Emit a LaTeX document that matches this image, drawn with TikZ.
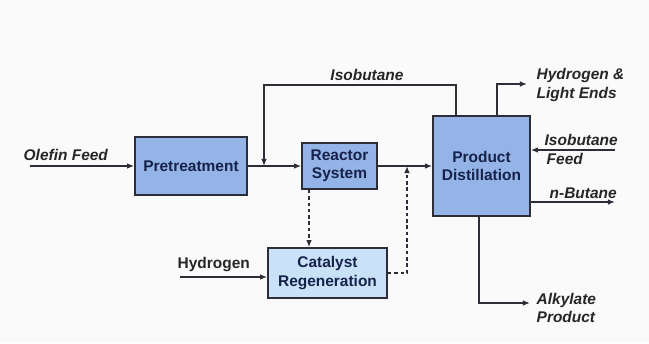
\documentclass[tikz,border=0pt]{standalone}
\usepackage{fontspec}
\setmainfont{Liberation Sans}
\usetikzlibrary{arrows.meta}

\definecolor{unitblue}{RGB}{148,179,230}
\definecolor{regenblue}{RGB}{201,226,248}
\definecolor{unittext}{RGB}{22,34,74}
\definecolor{edgegray}{RGB}{45,45,55}

\tikzset{
  unit/.style={draw=edgegray, line width=1.2pt, fill=unitblue, text=unittext,
    font=\bfseries\fontsize{11}{13}\selectfont, align=center, inner sep=0pt},
  stream/.style={font=\bfseries\itshape\fontsize{11}{13}\selectfont, text=black!85, inner sep=1pt},
  flow/.style={draw=edgegray, line width=1pt, -{Latex[length=5pt,width=4pt]}},
  catflow/.style={flow, dash pattern=on 2.5pt off 2pt}
}

\begin{document}
\begin{tikzpicture}[x=0.025cm, y=-0.025cm]
\fill[black!2] (0,0) rectangle (649,343);
\useasboundingbox (0,0) rectangle (649,343);

% process units
\node[unit, minimum width=2.8cm, minimum height=1.45cm] (pre) at (191,166) {Pretreatment};
\node[unit, minimum width=1.875cm, minimum height=1.15cm] (reac) at (339.5,166) {Reactor\\System};
\node[unit, minimum width=2.425cm, minimum height=2.5cm] (pd) at (481.5,166) {Product\\Distillation};
\node[unit, fill=regenblue, minimum width=2.975cm, minimum height=1.25cm] (cat) at (327.5,273) {Catalyst\\Regeneration};

% helper points
\coordinate (olf) at (30,166);
\coordinate (mix) at (264,166);
\coordinate (rec) at (456,85);
\coordinate (hlb) at (497,84);
\coordinate (hle) at (527,84);
\coordinate (ifd) at (615,150);
\coordinate (nbu) at (615,202);
\coordinate (alk) at (479,303);
\coordinate (alkend) at (530,303);
\coordinate (hyd) at (180,277);
\coordinate (dv) at (309,0);
\coordinate (dr) at (407,166);

% main streams
\draw[flow] (olf) -- (pre.west);
\draw[flow] (pre.east) -- (reac.west);
\draw[flow] (reac.east) -- (pd.west);
\draw[flow] (pd.north -| rec) -- (rec) -| (mix);
\draw[flow] (pd.north -| hlb) -- (hlb) -- (hle);
\draw[flow] (ifd) -- (ifd -| pd.east);
\draw[flow] (nbu -| pd.east) -- (nbu);
\draw[flow] (pd.south -| alk) -- (alk) -- (alkend);
\draw[flow] (hyd) -- (cat.west |- hyd);

% catalyst loop
\draw[catflow] (reac.south -| dv) -- (cat.north -| dv);
\draw[catflow] (cat.east) -| (dr);

% labels
\node[stream, anchor=south west] (lolf) at (22,162) {Olefin Feed};
\node[stream] (lrec) at (367,75) {Isobutane};
\node[stream, anchor=west, align=left] (lhle) at (535,85) {Hydrogen \&\\Light Ends};
\node[stream, anchor=south west] (lifd) at (543,147) {Isobutane};
\node[stream, anchor=north west] (lfd) at (545,152) {Feed};
\node[stream, anchor=south west] (lnbu) at (548,200) {n-Butane};
\node[stream, anchor=west, align=left] (lalk) at (535,308) {Alkylate\\Product};
\node[stream, font=\bfseries\fontsize{11}{13}\selectfont, anchor=south west] (lhyd) at (176,273) {Hydrogen};
\end{tikzpicture}
\end{document}
